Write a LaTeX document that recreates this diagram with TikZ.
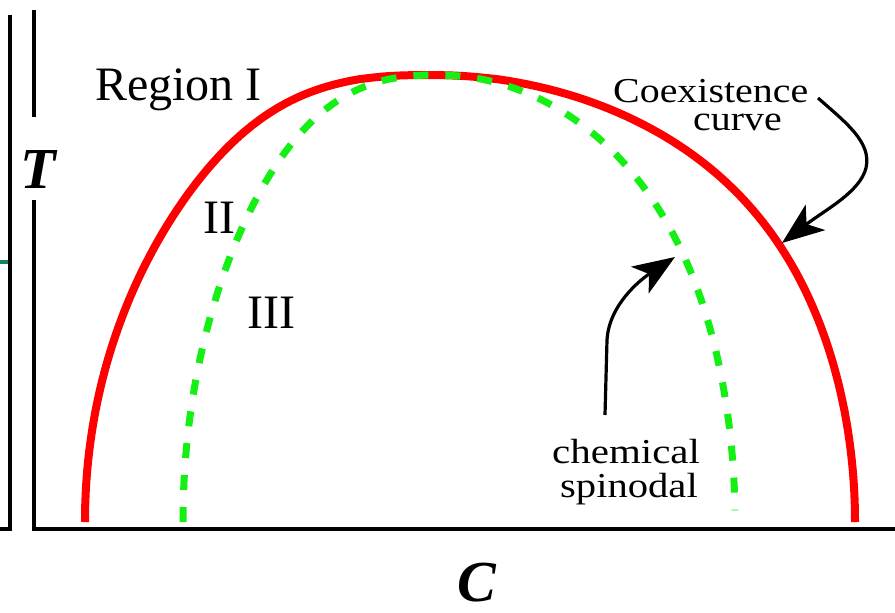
\documentclass[tikz,border=0pt]{standalone}
\usepackage{fontspec}
\setmainfont{Liberation Serif}
\usepackage{graphicx}
\usetikzlibrary{arrows.meta}
\definecolor{redc}{RGB}{255,0,0}
\definecolor{greenc}{RGB}{20,240,20}
\definecolor{tickc}{RGB}{20,130,90}
\tikzset{
 axisline/.style={line width=4pt, black},
 coexline/.style={line width=8pt, redc},
 spinline/.style={line width=7pt, greenc, dash pattern=on 15pt off 17pt},
 pointer/.style={line width=3.2pt, black, -{Stealth[length=42pt,width=32pt,inset=11pt]}},
 regionlbl/.style={inner sep=0pt, anchor=base west, font=\fontsize{48}{52}\selectfont},
 smalllbl/.style={inner sep=0pt, anchor=base west, font=\fontsize{35}{40}\selectfont},
 axislbl/.style={inner sep=0pt, anchor=base, font=\fontsize{58}{60}\selectfont\bfseries\itshape},
}
\begin{document}
\begin{tikzpicture}[x=1pt,y=-1pt]
\useasboundingbox (0,0) rectangle (895,613);
% left frame remnant
\draw[axisline] (10,15) -- (10,529) -- (0,529);
\draw[line width=4pt, tickc] (0,262) -- (8,262);
% axes
\draw[axisline] (34,10) -- (34,117);
\draw[axisline] (34,200) -- (34,529) -- (895,529);
% coexistence curve
\draw[coexline]
 plot[domain=0:90, samples=70, variable=\t]
   ({470-385*(abs(cos(\t))+0.00001)^0.87-44*sin(\t)^6}, {522-447*sin(\t)})
 -- plot[domain=90:180, samples=70, variable=\t]
   ({470+385*(abs(cos(\t))+0.00001)^0.87-44*sin(\t)^6}, {522-447*sin(\t)});
% chemical spinodal
\draw[spinline]
 plot[domain=0:90, samples=70, variable=\t]
   ({459-276*(abs(cos(\t))+0.00001)^0.9-25*sin(\t)^5}, {522-447*sin(\t)})
 -- plot[domain=90:178.5, samples=70, variable=\t]
   ({459+276*(abs(cos(\t))+0.00001)^0.9-25*sin(\t)^5}, {522-447*sin(\t)});
% labels
\node[regionlbl] (reg1) at (95,100) {Region I};
\node[regionlbl] (reg2) at (203,233) {II};
\node[regionlbl] (reg3) at (247,328) {III};
\node[smalllbl] (coex) at (613,102) {\scalebox{1.14}[1]{Coexistence}};
\node[smalllbl] (curve) at (693,130) {\scalebox{1.14}[1]{curve}};
\node[smalllbl] (chem) at (552,463) {\scalebox{1.17}[1]{chemical}};
\node[smalllbl] (spin) at (560,497) {\scalebox{1.16}[1]{spinodal}};
\node[axislbl] (tlab) at (38,188) {T};
\node[axislbl] (clab) at (477,601) {C};
% pointer arrows
\coordinate (coexStart) at (818,98);
\coordinate (coexTip) at (782,243);
\coordinate (spinStart) at (605,415);
\coordinate (spinTip) at (675,257);
\draw[pointer] (coexStart) .. controls (845,122) and (872,142) .. (866,168)
  .. controls (860,192) and (825,210) .. (coexTip);
\draw[pointer] (spinStart) -- (607,340) .. controls (609,305) and (640,280) .. (spinTip);
\end{tikzpicture}
\end{document}
